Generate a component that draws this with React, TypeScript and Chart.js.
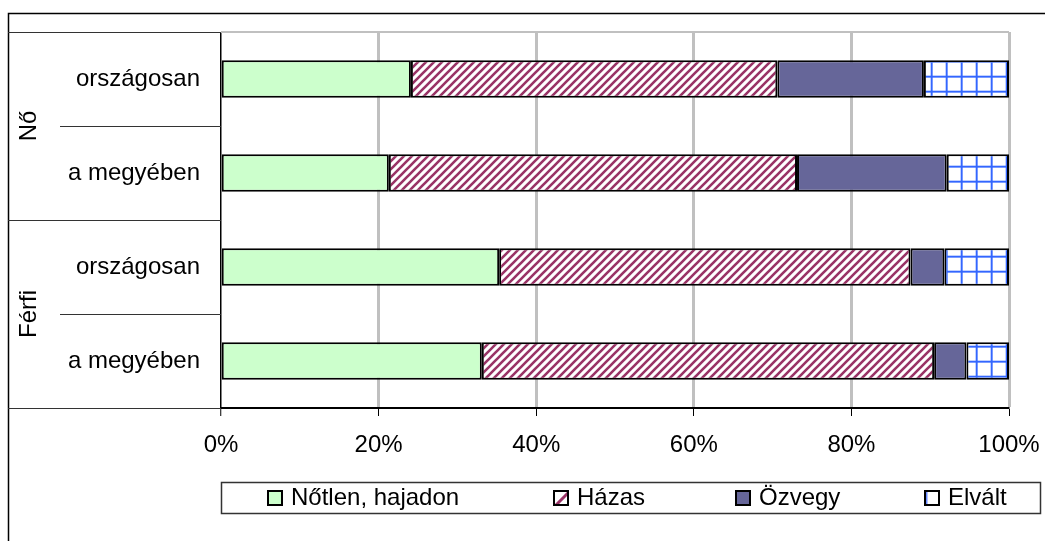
import React, { useEffect, useRef } from 'react';
import { Chart, registerables } from 'chart.js';
Chart.register(...registerables);

const groups = ['Nő', 'Férfi'];
const categories = ['országosan', 'a megyében', 'országosan', 'a megyében'];
const seriesNames = ['Nőtlen, hajadon', 'Házas', 'Özvegy', 'Elvált'];
const notlen = [24.1, 21.3, 35.3, 33.1];
const hazas = [46.5, 51.8, 52.2, 57.4];
const ozvegy = [18.6, 19.0, 4.3, 4.1];
const elvalt = [10.8, 7.9, 8.2, 5.4];

const FONT = "'Liberation Sans', Arial, sans-serif";

function makeStripe(): CanvasPattern {
  const s = 8;
  const c = document.createElement('canvas');
  c.width = s; c.height = s;
  const g = c.getContext('2d')!;
  g.fillStyle = '#ffffff';
  g.fillRect(0, 0, s, s);
  g.strokeStyle = '#993366';
  g.lineWidth = 2.6;
  g.beginPath();
  g.moveTo(-2, s + 2); g.lineTo(s + 2, -2);
  g.moveTo(-2, 2); g.lineTo(2, -2);
  g.moveTo(s - 2, s + 2); g.lineTo(s + 2, s - 2);
  g.stroke();
  return g.createPattern(c, 'repeat')!;
}

function makeGrid(): CanvasPattern {
  const s = 15;
  const c = document.createElement('canvas');
  c.width = s; c.height = s;
  const g = c.getContext('2d')!;
  g.fillStyle = '#ffffff';
  g.fillRect(0, 0, s, s);
  g.fillStyle = 'rgba(51,102,255,0.3)';
  g.fillRect(0, 0, 3, s);
  g.fillRect(0, 0, s, 3);
  g.fillStyle = '#3366ff';
  g.fillRect(1, 0, 1.5, s);
  g.fillRect(0, 1, s, 1.5);
  return g.createPattern(c, 'repeat')!;
}

export default function App() {
  const ref = useRef<HTMLCanvasElement>(null);
  useEffect(() => {
    const canvas = ref.current!;
    const stripe = makeStripe();
    const grid = makeGrid();
    const colors: any[] = ['#ccffcc', stripe, '#666699', grid];
    const values = [notlen, hazas, ozvegy, elvalt];

    const decor = {
      id: 'decor',
      beforeDatasetsDraw(chart: any) {
        const { ctx, chartArea } = chart;
        ctx.save();
        ctx.strokeStyle = '#c0c0c0';
        ctx.lineWidth = 2;
        ctx.beginPath();
        ctx.moveTo(chartArea.left, chartArea.top);
        ctx.lineTo(chartArea.right, chartArea.top);
        ctx.stroke();
        ctx.restore();
      },
      afterDraw(chart: any) {
        const { ctx, chartArea } = chart;
        const y = chart.scales.y;
        const n = categories.length;
        const band = (y.bottom - y.top) / n;
        ctx.save();
        // outer chart border
        ctx.strokeStyle = '#000';
        ctx.lineWidth = 1.5;
        ctx.beginPath();
        ctx.moveTo(8.5, 541);
        ctx.lineTo(8.5, 13.5);
        ctx.lineTo(1045, 13.5);
        ctx.stroke();
        // category separators
        ctx.strokeStyle = '#333';
        ctx.lineWidth = 1;
        for (let k = 0; k <= n; k++) {
          const py = Math.round(y.top + k * band) + 0.5;
          const x0 = k % 2 === 0 ? 8 : 60;
          ctx.beginPath();
          ctx.moveTo(x0, py);
          ctx.lineTo(chartArea.left, py);
          ctx.stroke();
        }
        // group labels
        ctx.fillStyle = '#000';
        ctx.font = `24px ${FONT}`;
        ctx.textAlign = 'center';
        ctx.textBaseline = 'middle';
        groups.forEach((gname, gi) => {
          const cy = y.top + (2 * gi + 1) * band;
          ctx.save();
          ctx.translate(29, cy);
          ctx.rotate(-Math.PI / 2);
          ctx.fillText(gname, 0, 0);
          ctx.restore();
        });
        // legend
        ctx.strokeStyle = '#333';
        ctx.lineWidth = 1.5;
        ctx.strokeRect(221.5, 482.5, 819, 31);
        const markerX = [268, 554, 736, 925];
        const my = 491;
        ctx.textAlign = 'left';
        seriesNames.forEach((name, i) => {
          const mx = markerX[i];
          if (i === 1) {
            ctx.fillStyle = '#fff';
            ctx.fillRect(mx, my, 14, 14);
            ctx.save();
            ctx.beginPath();
            ctx.rect(mx, my, 14, 14);
            ctx.clip();
            ctx.strokeStyle = '#993366';
            ctx.lineWidth = 3;
            ctx.beginPath();
            ctx.moveTo(mx + 1, my + 15);
            ctx.lineTo(mx + 15, my + 1);
            ctx.stroke();
            ctx.restore();
          } else if (i === 3) {
            ctx.fillStyle = '#fff';
            ctx.fillRect(mx, my, 14, 14);
            ctx.fillStyle = '#6688ff';
            ctx.fillRect(mx + 1, my + 1, 1.5, 12);
          } else {
            ctx.fillStyle = colors[i];
            ctx.fillRect(mx, my, 14, 14);
          }
          ctx.strokeStyle = '#000';
          ctx.lineWidth = 2;
          ctx.strokeRect(mx, my, 14, 14);
          ctx.fillStyle = '#000';
          ctx.fillText(name, mx + 23, 498);
        });
        ctx.restore();
      },
    };

    const chart = new Chart(canvas, {
      type: 'bar',
      data: {
        labels: categories,
        datasets: seriesNames.map((name, i) => ({
          label: name,
          data: values[i],
          backgroundColor: colors[i],
          borderColor: '#000',
          borderWidth: 2,
          borderSkipped: false,
          categoryPercentage: 1,
          barPercentage: 0.4,
        })),
      },
      options: {
        indexAxis: 'y',
        responsive: false,
        animation: false,
        layout: { padding: { left: 8, top: 32, right: 36, bottom: 67 } },
        plugins: { legend: { display: false }, tooltip: { enabled: false } },
        scales: {
          x: {
            stacked: true,
            min: 0,
            max: 100,
            ticks: {
              stepSize: 20,
              callback: (v: any) => v + '%',
              font: { family: FONT, size: 24, lineHeight: 2 },
              color: '#000',
              padding: 5,
              maxRotation: 0,
            },
            grid: {
              color: (c: any) => (c.index === 0 ? '#000' : '#c0c0c0'),
              lineWidth: (c: any) => (c.index === 0 ? 1.5 : 3),
              tickColor: '#000',
              tickWidth: 1,
              tickLength: 8,
            },
            border: { color: '#000', width: 2 },
          },
          y: {
            stacked: true,
            grid: { display: false, drawTicks: true, tickLength: 21 },
            border: { display: false },
            ticks: { font: { family: FONT, size: 24 }, color: '#000', padding: 0 },
            afterFit: (s: any) => { s.width = 213; },
          },
        },
      },
      plugins: [decor],
    } as any);
    return () => chart.destroy();
  }, []);
  return (
    <div style={{ position: 'absolute', left: 0, top: 0, width: 1045, height: 541, background: '#fff' }}>
      <canvas ref={ref} width={1045} height={541} style={{ display: 'block' }} />
    </div>
  );
}
